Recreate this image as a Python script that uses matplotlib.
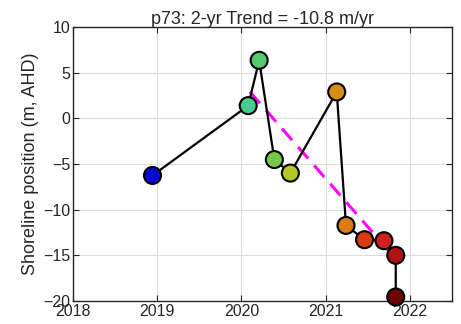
import matplotlib
matplotlib.use('Agg')
import matplotlib.pyplot as plt

plt.rcParams['font.family'] = ['Liberation Sans', 'DejaVu Sans']

# survey dates (decimal years) and shoreline positions
dates = [2018.945, 2020.08, 2020.21, 2020.39, 2020.58, 2021.13,
         2021.24, 2021.46, 2021.69, 2021.83, 2021.83]
position = [-6.26, 1.38, 6.34, -4.52, -6.0, 2.88,
            -11.73, -13.29, -13.4, -15.0, -19.56]
point_colors = ['#0a0ad2', '#45cf8e', '#57c96f', '#78c847', '#b4c724', '#d88c12',
                '#da7a10', '#dc3a10', '#cf1f1f', '#b01212', '#6e0404']

# 2-yr trend line end points
trend_x = [2020.1, 2021.85]
trend_y = [2.9, -15.6]

title = 'p73: 2-yr Trend = -10.8 m/yr'
year_ticks = [2018, 2019, 2020, 2021, 2022]
y_ticks = [-20, -15, -10, -5, 0, 5, 10]

fig = plt.figure(figsize=(4.61, 3.24), dpi=100)
ax = fig.add_axes([0.158, 0.071, 0.823, 0.846])

ax.plot(dates, position, '-', color='black', linewidth=1.6, zorder=3)
ax.plot(trend_x, trend_y, '--', color='#ff00ff', linewidth=2.2, dashes=(5, 3), zorder=2)
ax.scatter(dates, position, s=150, c=point_colors, edgecolors='black',
           linewidths=1.5, zorder=4, clip_on=False)

ax.set_xlim(2018, 2022.5)
ax.set_ylim(-20, 10)
ax.set_xticks(year_ticks)
ax.set_yticks(y_ticks)
ax.set_ylabel('Shoreline position (m, AHD)', fontsize=13, color='#262626', labelpad=3)
ax.set_title(title, fontsize=13, color='#262626', pad=2)
ax.grid(True, color='#dcdcdc', linewidth=0.8)
ax.set_axisbelow(True)
ax.tick_params(direction='in', top=True, right=True, labelsize=11.5,
               colors='#262626', length=4, pad=2)
for sp in ax.spines.values():
    sp.set_color('#262626')
    sp.set_linewidth(1.0)

plt.savefig('out.png', dpi=100)
